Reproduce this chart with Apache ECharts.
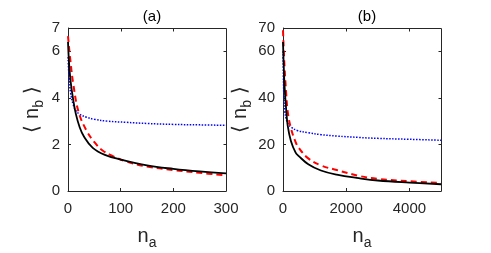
<!DOCTYPE html>
<html><head><meta charset="utf-8">
<script src="https://cdn.jsdelivr.net/npm/echarts@6/dist/echarts.min.js"></script>
<style>html,body{margin:0;padding:0;background:#fff}#c{width:491px;height:253px}</style>
</head><body><div id="c"></div>
<script>
// Panel (a): [n_a, <n_b>]
const blackA = [[0,6.4],[2,5.5],[5,4.7],[10,3.9],[15,3.3],[22,2.75],[30,2.35],[47,1.85],[70,1.55],[100,1.35],[150,1.1],[200,0.95],[250,0.84],[300,0.76]];
const redA   = [[0,6.65],[5,5.5],[10,4.6],[20,3.4],[35,2.6],[50,2.1],[65,1.75],[85,1.5],[110,1.27],[150,1.05],[200,0.9],[250,0.78],[300,0.67]];
const blueA  = [[0,5.75],[2,4.9],[5,4.2],[10,3.7],[15,3.45],[22,3.3],[35,3.17],[50,3.08],[75,3.0],[110,2.95],[150,2.9],[200,2.86],[250,2.84],[300,2.82]];
// Panel (b)
const blackB = [[0,64],[20,55],[50,45],[100,35],[150,28],[250,21.5],[400,16.5],[500,15],[800,11.5],[1200,8.8],[1700,7],[2400,5.5],[3000,4.5],[4000,3.6],[5000,2.9]];
const redB   = [[0,69],[20,62],[50,53],[100,42],[150,34],[250,27],[400,21],[500,18.5],[800,14],[1200,11],[1700,9],[2400,6.5],[3000,5.2],[4000,4.2],[5000,3.4]];
const blueB  = [[0,60],[10,50],[30,40],[60,34],[100,31],[150,29],[250,27.5],[450,26],[800,25],[1200,24.2],[1700,23.6],[2400,23],[3000,22.6],[4000,22.2],[5000,21.8]];
// Tick labels and axis limits
const xTicksA = [0,100,200,300];
const yTicksA = [0,2,4,6,7];
const xTicksB = [0,2000,4000];
const yTicksB = [0,20,40,60,70];
const xMaxA = 300, yMaxA = 7, xMaxB = 5000, yMaxB = 70;
const titles = ['(a)','(b)'];

const FONT = 'Liberation Sans, Arial, Helvetica, sans-serif';
const AX = '#262626';
const chart = echarts.init(document.getElementById('c'));

function xAx(gi, max, ticks) {
  return {
    type:'value', gridIndex:gi, min:0, max:max, position:'bottom',
    name:'n{s|a}', nameLocation:'middle', nameGap:31,
    nameTextStyle:{fontFamily:FONT, fontSize:20, color:AX, rich:{s:{fontFamily:FONT,fontSize:14,color:AX,padding:[14,0,0,0]}}},
    axisLine:{show:true, onZero:false, lineStyle:{color:AX,width:1}},
    axisTick:{show:true, inside:true, length:3, customValues:ticks, lineStyle:{color:AX}},
    axisLabel:{show:true, customValues:ticks, formatter:v=>String(v), fontFamily:FONT, fontSize:15, color:AX, margin:10},
    splitLine:{show:false}
  };
}
function yAx(gi, max, ticks) {
  return {
    type:'value', gridIndex:gi, min:0, max:max, position:'left',
    name:'⟨ n{s|b} ⟩', nameLocation:'middle', nameGap:22, nameRotate:90,
    nameTextStyle:{fontFamily:FONT, fontSize:20, color:AX, rich:{s:{fontFamily:FONT,fontSize:14,color:AX,padding:[14,0,0,0]}}},
    axisLine:{show:true, onZero:false, lineStyle:{color:AX,width:1}},
    axisTick:{show:true, inside:true, length:3, customValues:ticks, lineStyle:{color:AX}},
    axisLabel:{show:true, customValues:ticks, formatter:v=>String(v), fontFamily:FONT, fontSize:15, color:AX, margin:8},
    splitLine:{show:false}
  };
}
function ser(data, gi, color, type, width) {
  return {type:'line', xAxisIndex:gi, yAxisIndex:gi, data:data, smooth:0.4, symbol:'none',
    lineStyle:{color:color, type:type, width:width}, clip:true, animation:false};
}

chart.setOption({
  animation:false,
  title:[
    {text:titles[0], left:147, top:4, textAlign:'center', textStyle:{fontFamily:FONT,fontSize:15,fontWeight:'normal',color:'#000'}},
    {text:titles[1], left:362, top:4, textAlign:'center', textStyle:{fontFamily:FONT,fontSize:15,fontWeight:'normal',color:'#000'}}
  ],
  grid:[
    {left:68, top:28, width:158, height:163, outerBoundsMode:'none'},
    {left:283, top:28, width:158, height:163, outerBoundsMode:'none'}
  ],
  xAxis:[xAx(0,xMaxA,xTicksA), xAx(1,xMaxB,xTicksB)],
  yAxis:[yAx(0,yMaxA,yTicksA), yAx(1,yMaxB,yTicksB)],
  series:[
    ser(blueA,0,'#0000ff','dotted',1.5),
    ser(redA,0,'#ff0000',[6,4],2),
    ser(blackA,0,'#000000','solid',1.8),
    ser(blueB,1,'#0000ff','dotted',1.5),
    ser(redB,1,'#ff0000',[6,4],2),
    ser(blackB,1,'#000000','solid',1.8)
  ]
});

// Box frame (top/right edges + mirrored inward ticks), positioned through the library's scales
const frameEls = [];
function snap(v){ return Math.round(v) + 0.5; }
function addFrame(gi, xMax, yMax, xt, yt) {
  const p0 = chart.convertToPixel({gridIndex:gi}, [0,0]);
  const p1 = chart.convertToPixel({gridIndex:gi}, [xMax,yMax]);
  const L = snap(p0[0]), B = snap(p0[1]), R = snap(p1[0]), T = snap(p1[1]);
  frameEls.push({type:'line', silent:true, z:100, shape:{x1:L,y1:T,x2:R,y2:T}, style:{stroke:AX,lineWidth:1}});
  frameEls.push({type:'line', silent:true, z:100, shape:{x1:R,y1:T,x2:R,y2:B}, style:{stroke:AX,lineWidth:1}});
  xt.forEach(v => {
    if (v > 0 && v < xMax) {
      const x = snap(chart.convertToPixel({gridIndex:gi}, [v,0])[0]);
      frameEls.push({type:'line', silent:true, z:100, shape:{x1:x,y1:T,x2:x,y2:T+3}, style:{stroke:AX,lineWidth:1}});
    }
  });
  yt.forEach(v => {
    if (v > 0 && v < yMax) {
      const y = snap(chart.convertToPixel({gridIndex:gi}, [0,v])[1]);
      frameEls.push({type:'line', silent:true, z:100, shape:{x1:R-3,y1:y,x2:R,y2:y}, style:{stroke:AX,lineWidth:1}});
    }
  });
}
addFrame(0, xMaxA, yMaxA, xTicksA, yTicksA);
addFrame(1, xMaxB, yMaxB, xTicksB, yTicksB);
chart.setOption({graphic:{elements:frameEls}});
</script></body></html>
